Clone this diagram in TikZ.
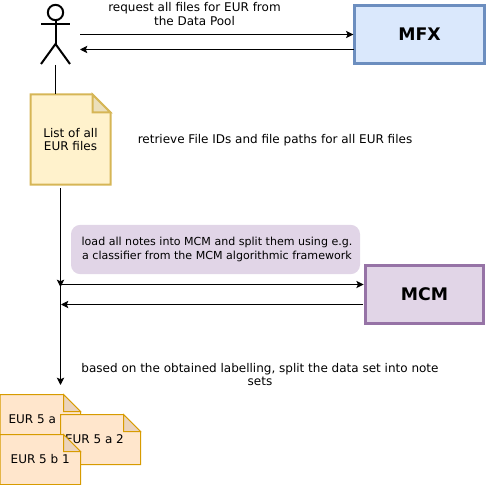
\documentclass[tikz,border=0pt]{standalone}
\usepackage{fontspec}
\setmainfont{DejaVu Sans}
\usetikzlibrary{positioning,arrows.meta}

% sheet with a folded corner: [node options]{name}{left}{top}{width}{height}{fold}{text}
\newcommand{\notesheet}[8][]{
    \draw[sheetline] (#3,#4) -- ({#3+#5-#7},#4) -- ({#3+#5},{#4+#7}) -- ({#3+#5},{#4+#6}) -- (#3,{#4+#6}) -- cycle;
    \draw[sheetline, foldline] ({#3+#5-#7},#4) -- ({#3+#5},{#4+#7}) -- ({#3+#5-#7},{#4+#7}) -- cycle;
    \node[sheetlabel, minimum width=0.75*#5, minimum height=0.75*#6, #1] (#2) at ({#3+#5/2},{#4+#6/2}) {#8};
}

\begin{document}
\begin{tikzpicture}[
x=0.75pt, y=-0.75pt,
textlabel/.style={align=center, font=\fontsize{9pt}{10.4pt}\selectfont, inner sep=0pt},
sheetlabel/.style={textlabel, outer sep=0pt},
sheetline/.style={draw=sheetdraw, fill=sheetfill, line width=0.75pt, line join=miter},
foldline/.style={fill=sheetfold},
sysbox/.style={rectangle, line width=2.25pt, font=\bfseries\fontsize{13pt}{16pt}\selectfont, anchor=center},
flow/.style={-{Stealth[length=5.5pt,width=5.5pt,inset=1.2pt]}, line width=0.75pt, black},
bond/.style={line width=0.75pt, black},
stick/.style={line width=1.5pt, black}
]
    \useasboundingbox (0,0) rectangle (486,485);
    \definecolor{mfxdraw}{HTML}{6C8EBF}
    \definecolor{mfxfill}{HTML}{DAE8FC}
    \definecolor{mcmdraw}{HTML}{9673A6}
    \definecolor{mcmfill}{HTML}{E1D5E7}

    %Nodes
    \node[sysbox, draw=mfxdraw, fill=mfxfill, minimum width=97pt, minimum height=44pt]
        (mfx)   at (419.5,34.5)     {MFX};
    \node[sysbox, draw=mcmdraw, fill=mcmfill, minimum width=89pt, minimum height=44pt]
        (mcm)   at (424.5,294.5)    {MCM};
    \node[rectangle, rounded corners=7pt, fill=mcmfill, minimum width=216.75pt, minimum height=37pt]
        (loadbox) at (215.5,249.5)  {};

    \node[textlabel] (request)  at (194.5,14)   {request all files for EUR from\\the Data Pool};
    \node[textlabel] (retrieve) at (275,140)    {retrieve File IDs and file paths for all EUR files};
    \node[textlabel, font=\fontsize{8.3pt}{10.2pt}\selectfont] (load) at (217,249.5)  {load all notes into MCM and split them using e.g.\\ a classifier from the MCM algorithmic framework};
    \node[textlabel] (based)    at (260,374.5)  {based on the obtained labelling, split the data set into note\\sets};

    %Actor
    \node[circle, stick, draw, minimum size=11.5pt, inner sep=0pt] (head) at (55.5,12.5) {};
    \coordinate (neck)  at (55.5,44);
    \coordinate (armL)  at (41,24);
    \coordinate (armR)  at (70,24);
    \coordinate (legL)  at (41,64);
    \coordinate (legR)  at (70,64);
    \draw[stick] (head.south) -- (neck);
    \draw[stick] (armL) -- (armR);
    \draw[stick] (legL) -- (neck) -- (legR);

    %Sheets
    \colorlet{sheetdraw}{black}
    \colorlet{sheetfill}{white}
    \colorlet{sheetfold}{white}
    \definecolor{sheetdraw}{HTML}{D6B656}
    \definecolor{sheetfill}{HTML}{FFF2CC}
    \definecolor{sheetfold}{HTML}{EBDFBB}
    \begin{scope}[sheetline/.append style={line width=1.5pt}]
        \notesheet{list}{30.5}{94.5}{80}{90}{18}{List of all\\EUR files}
    \end{scope}
    \definecolor{sheetdraw}{HTML}{D79B00}
    \definecolor{sheetfill}{HTML}{FFE6CC}
    \definecolor{sheetfold}{HTML}{EBD3BC}
    \notesheet[xshift=-6pt]{eura}{0}{394.5}{80.5}{50}{17}{EUR 5 a}
    \notesheet[xshift=-4.5pt]{eurb}{60.5}{414.5}{80}{50}{17}{EUR 5 a 2}
    \notesheet{eurc}{0}{434.5}{80.5}{50}{17}{EUR 5 b 1}

    %Lines
    \coordinate (reqstart)  at (80,34.5);
    \coordinate (retstart)  at (354,49.5);
    \coordinate (retend)    at (80,49.5);
    \coordinate (feet)      at (55.5,65);
    \coordinate (stemtop)   at (60.5,188);
    \coordinate (stemsplit) at (60.5,287);
    \coordinate (stemend)   at (60.5,385);
    \coordinate (mcmout)    at (363,304.5);
    \coordinate (mcmback)   at (61,304.5);
    \draw[flow] (reqstart) -- (mfx.west);
    \draw[flow] (retstart) -- (retend);
    \draw[bond] (feet) -- (feet |- list.north);
    \draw[flow] (stemtop) -- (stemsplit);
    \draw[flow] (stemtop) -- (stemend);
    \draw[flow] (stemsplit |- 0,284.5) -- (mcm.west |- 0,284.5);
    \draw[flow] (mcmout) -- (mcmback);
\end{tikzpicture}
\end{document}
